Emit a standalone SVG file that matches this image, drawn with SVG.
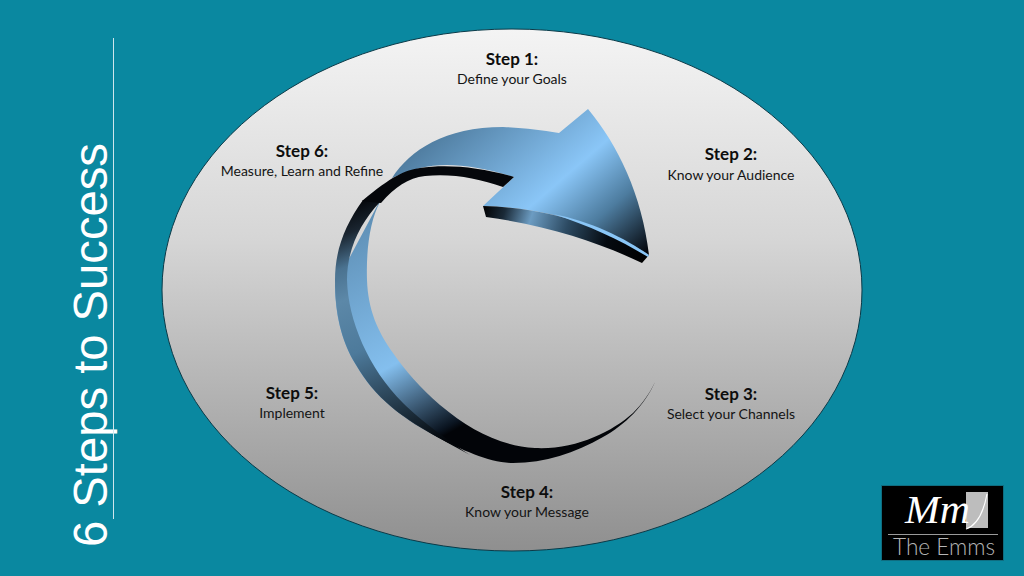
<svg xmlns="http://www.w3.org/2000/svg" width="1024" height="576" viewBox="0 0 1024 576">
<defs>
<linearGradient id="disc" x1="0" y1="0" x2="0" y2="1"><stop offset="0" stop-color="#f4f4f4"/><stop offset="0.4" stop-color="#d6d6d6"/><stop offset="1" stop-color="#8f8f8f"/></linearGradient>
<linearGradient id="head" gradientUnits="userSpaceOnUse" x1="486" y1="75" x2="645" y2="258"><stop offset="0" stop-color="#4a7698"/><stop offset="0.53" stop-color="#8ac6f7"/><stop offset="0.75" stop-color="#4d7c9f"/><stop offset="1" stop-color="#000004"/></linearGradient>
<linearGradient id="lower" gradientUnits="userSpaceOnUse" x1="345" y1="230" x2="455" y2="430"><stop offset="0" stop-color="#5f90b6"/><stop offset="0.62" stop-color="#84bfee"/><stop offset="0.97" stop-color="#0a1420"/><stop offset="1" stop-color="#020408"/></linearGradient>
<linearGradient id="sideL" gradientUnits="userSpaceOnUse" x1="350" y1="205" x2="445" y2="440"><stop offset="0" stop-color="#05070b"/><stop offset="0.1" stop-color="#1a2530"/><stop offset="0.22" stop-color="#4a7290"/><stop offset="0.34" stop-color="#5c88a8"/><stop offset="0.55" stop-color="#4d7a9b"/><stop offset="1" stop-color="#03060a"/></linearGradient>
<linearGradient id="front" gradientUnits="userSpaceOnUse" x1="484" y1="210" x2="645" y2="260"><stop offset="0" stop-color="#020305"/><stop offset="0.12" stop-color="#1a2a38"/><stop offset="0.28" stop-color="#6c9cc2"/><stop offset="0.5" stop-color="#2c4a62"/><stop offset="0.75" stop-color="#050a10"/><stop offset="1" stop-color="#000"/></linearGradient>
<style>
.s{font-family:Lato,"Liberation Sans",sans-serif;font-size:17px;font-weight:700;fill:#0d0d0d;text-anchor:middle}
.d{font-family:Lato,"Liberation Sans",sans-serif;font-size:14px;fill:#141414;text-anchor:middle}
</style>
</defs>
<rect width="1024" height="576" fill="#0a88a0"/>
<g id="title">
<text transform="translate(107 547) rotate(-90)" font-family="Liberation Sans, Arial, sans-serif" font-size="47.2" fill="#fff">6 Steps to Success</text>
<line x1="113.500" y1="38" x2="113.500" y2="519" stroke="#cfe6ec" stroke-width="1"/>
</g>
<g id="disc"><ellipse cx="512" cy="290" rx="350" ry="261" fill="url(#disc)" stroke="#0a3a48" stroke-width="1"/></g>
<g id="arrow">
<path d="M392 178 L380 202 C370 220 366 250 367 280 C368 310 378 332 393 353 C405 370 420 388 440 405 C470 430 500 446 535 448 C575 450 612 432 633 413 C642 404 650 393 655 382 C645 405 625 425 603 437 C575 453 545 463 513 463 C490 463 462 450 437 437 C415 425 400 415 387 403 C370 388 362 375 353 360 C342 340 335 315 335 285 Z" fill="url(#lower)"/>
<path d="M363 200 C345 225 335 250 335 280 C335 315 342 340 353 360 C362 375 370 388 387 403 C400 415 420 428 470 455 C450 442 420 420 403 403 C368 368 348 320 347 280 C347 250 360 223 380 202 Z" fill="url(#sideL)"/>
<path d="M392 178 C410 150 445 127 503 127 C525 128 540 130 559 133 L588 109 C618 145 642 195 649 255 C615 233 560 208 483 206 L514 177 C475 165 445 162 420 168 C410 171 400 174 392 178 Z" fill="url(#head)"/>
<path d="M514 177 C480 167 447 164 420 168 C405 170 392 176 362 201 L381 203 C395 187 408 178 425 176 C450 173 478 178 503 187 Z" fill="#05070b"/>
<path d="M483 206 C560 208 615 233 649 255 L642 263 C600 243 550 226 486 217 Z" fill="url(#front)"/>
<path d="M553 214 C590 221 625 238 649 255 L648 257 C620 240 590 226 553 214 Z" fill="#8ac6f7"/>
</g>
<g id="step1"><text class="s" x="512" y="65">Step 1:</text><text class="d" x="512" y="84">Define your Goals</text></g>
<g id="step2"><text class="s" x="731" y="160">Step 2:</text><text class="d" x="731" y="180">Know your Audience</text></g>
<g id="step3"><text class="s" x="731" y="400">Step 3:</text><text class="d" x="731" y="419">Select your Channels</text></g>
<g id="step4"><text class="s" x="527" y="498">Step 4:</text><text class="d" x="527" y="517">Know your Message</text></g>
<g id="step5"><text class="s" x="292" y="399">Step 5:</text><text class="d" x="292" y="418">Implement</text></g>
<g id="step6"><text class="s" x="302" y="157">Step 6:</text><text class="d" x="302" y="176">Measure, Learn and Refine</text></g>
<g id="logo">
<rect x="881.500" y="485.500" width="122" height="75" fill="#000" stroke="#0f6d80"/>
<rect x="966" y="492" width="22" height="36" fill="#bdbdbd"/>
<path d="M987 494 C984 510 978 525 966 529" fill="none" stroke="#fff" stroke-width="1.200"/>
<text x="905" y="523" font-family="Liberation Serif, serif" font-style="italic" font-size="40" fill="#fff" textLength="65" lengthAdjust="spacingAndGlyphs">Mm</text>
<line x1="888" y1="534.500" x2="998" y2="534.500" stroke="#9a9a9a" stroke-width="1"/>
<text x="893" y="555" font-family="Lato, sans-serif" font-weight="300" font-size="22.500" fill="#b5b5b5" textLength="102" lengthAdjust="spacingAndGlyphs">The Emms</text>
</g>
</svg>
